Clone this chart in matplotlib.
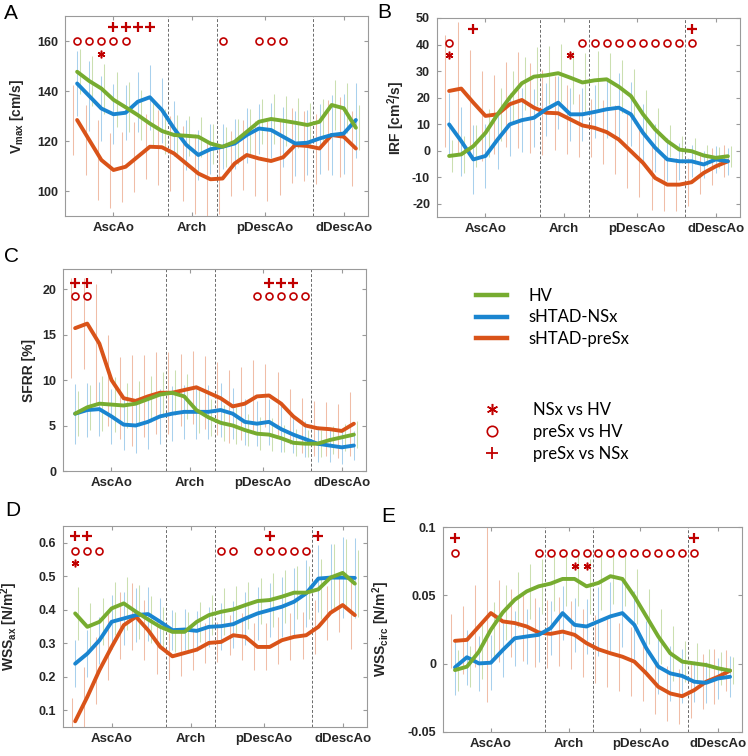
import numpy as np
import matplotlib
matplotlib.use('Agg')
import matplotlib.pyplot as plt
from matplotlib.lines import Line2D

plt.rcParams['font.family'] = ['Liberation Sans', 'DejaVu Sans']
plt.rcParams['axes.unicode_minus'] = False
plt.rcParams['mathtext.fontset'] = 'custom'
plt.rcParams['mathtext.rm'] = 'Liberation Sans:bold'
plt.rcParams['mathtext.it'] = 'Liberation Sans:bold'
plt.rcParams['mathtext.bf'] = 'Liberation Sans:bold'

########
# Data #
########
pos = np.arange(1, 25)
region_ticks = [4, 10.5, 16.5, 23]
region_labels = ['AscAo', 'Arch', 'pDescAo', 'dDescAo']
region_bounds = [8.5, 12.5, 20.5]

groups = ['HV', 'sHTAD-NSx', 'sHTAD-preSx']
tests = ['NSx vs HV', 'preSx vs HV', 'preSx vs NSx']

# A: Vmax [cm/s]
vmax_hv = [147.7, 144, 141, 136.5, 133.5, 130.4, 127, 124, 122.4, 122.1, 121.7, 119,
           117.7, 119.7, 123.7, 127.7, 128.8, 128.1, 127.3, 126.4, 127.7, 134.4, 133.1, 125.3]
vmax_nsx = [143, 138, 133, 130.7, 131.3, 135.7, 137.5, 132.4, 125, 118.5, 114.4, 116.7,
            117.7, 119, 122.4, 125, 124.4, 121.7, 119, 119.3, 121, 122.4, 123, 128.4]
vmax_presx = [128.4, 120.4, 112.4, 108.4, 109.7, 113.7, 117.7, 117.5, 115, 111, 107, 104.7,
              105, 111, 114.4, 113, 112, 113.5, 118.4, 118, 117, 122.4, 121.7, 117]
vmax_hv_sd = [9, 10, 10, 11, 10, 10, 9, 9, 8, 8, 8, 8, 8, 9, 9, 9, 10, 10, 10, 9, 9, 10, 10, 9]
vmax_nsx_sd = [13, 14, 13, 12, 11, 12, 13, 13, 11, 10, 10, 10, 9, 10, 11, 10, 11, 12, 13, 13, 14, 16, 16, 15]
vmax_presx_sd = [14, 14, 16, 15, 14, 14, 13, 15, 15, 15, 16, 15, 14, 13, 14, 15, 16, 15, 15, 14, 14, 14, 16, 15]

# B: IRF [cm2/s]
irf_hv = [-2, -1.4, 1.7, 6.7, 13.7, 20, 25.4, 27.9, 28.4, 29.2, 27.5, 25.7,
          26.5, 26.9, 24.1, 20.6, 13.7, 8, 3.6, 0.4, -0.2, -1.8, -2.7, -2.1]
irf_nsx = [9.9, 3.6, -3.3, -2, 4.2, 9.9, 11.5, 12.4, 15.6, 18.1, 13.7, 13.7,
           14.6, 15.6, 16.2, 13.7, 6.7, 1.1, -3.3, -4, -4, -5.2, -3.3, -4]
irf_presx = [22.5, 23.4, 18.1, 13.1, 13.7, 17.5, 19.1, 16.2, 14.3, 14.1, 11.8, 9.5,
             8.6, 7, 4.2, -0.2, -4.6, -10.3, -12.8, -12.8, -11.9, -8.4, -5.9, -4]
irf_hv_sd = [6, 7, 8, 9, 10, 10, 10, 11, 11, 11, 10, 11, 11, 10, 10, 10, 9, 8, 6, 5, 5, 4, 4, 4]
irf_nsx_sd = [12, 13, 13, 12, 11, 12, 12, 11, 10, 10, 10, 10, 10, 11, 13, 12, 11, 9, 8, 7, 6, 5, 5, 5]
irf_presx_sd = [21, 25, 20, 17, 15, 16, 18, 17, 16, 14, 13, 12, 11, 12, 13, 14, 13, 12, 10, 10, 9, 8, 7, 6]

# C: SFRR [%]
sfrr_hv = [6.3, 7, 7.4, 7.3, 7.2, 7.4, 7.9, 8.4, 8.6, 8.2, 6.7, 5.9,
           5.3, 5, 4.5, 4.1, 4, 3.6, 3.1, 3, 3, 3.4, 3.7, 4]
sfrr_nsx = [6.3, 6.7, 6.8, 6, 5.1, 5, 5.4, 6, 6.3, 6.5, 6.5, 6.5,
            6.7, 6.3, 5.4, 5.2, 5.4, 4.6, 4, 3.5, 3, 2.8, 2.6, 2.8]
sfrr_presx = [15.7, 16.2, 14, 10, 8, 7.7, 8.2, 8.6, 8.6, 8.9, 9.2, 8.6,
              8, 7.1, 7.4, 8.2, 8.3, 7.4, 6, 5, 4.7, 4.6, 4.4, 5.2]
sfrr_hv_sd = [2.5, 2.5, 3, 3, 2.5, 2.5, 2.5, 2.5, 2.5, 2.5, 2.5, 2, 2, 2, 1.8, 1.8, 1.8, 1.5, 1.5, 1.5, 1.5, 1.5, 1.5, 1.5]
sfrr_nsx_sd = [3.3, 3, 3, 3, 2.8, 3, 3, 3, 3, 3, 3, 3, 3, 2.8, 2.5, 2.5, 2.5, 2.5, 2, 2, 2, 1.8, 1.8, 1.6]
sfrr_presx_sd = [5.5, 5, 6.5, 5, 4.5, 5, 4.5, 4.5, 4.5, 4, 4, 4, 4, 4, 4, 4, 3.5, 3.5, 3, 3, 3, 3, 3, 3.5]

# D: WSSax [N/m2]
wssax_hv = [0.389, 0.349, 0.364, 0.404, 0.419, 0.394, 0.371, 0.349, 0.334, 0.334, 0.364, 0.384,
            0.394, 0.401, 0.414, 0.426, 0.429, 0.439, 0.451, 0.451, 0.461, 0.496, 0.510, 0.478]
wssax_nsx = [0.239, 0.269, 0.309, 0.364, 0.374, 0.384, 0.387, 0.364, 0.339, 0.341, 0.337, 0.349,
             0.351, 0.357, 0.374, 0.389, 0.399, 0.409, 0.424, 0.449, 0.493, 0.496, 0.496, 0.495]
wssax_presx = [0.067, 0.140, 0.220, 0.289, 0.354, 0.379, 0.339, 0.289, 0.261, 0.271, 0.281, 0.301,
               0.304, 0.324, 0.319, 0.289, 0.289, 0.309, 0.319, 0.324, 0.349, 0.391, 0.414, 0.384]
wssax_hv_sd = [0.08, 0.07, 0.07, 0.08, 0.08, 0.08, 0.07, 0.06, 0.06, 0.06, 0.06, 0.06,
               0.07, 0.07, 0.07, 0.07, 0.08, 0.08, 0.08, 0.08, 0.09, 0.1, 0.1, 0.1]
wssax_nsx_sd = [0.07, 0.07, 0.07, 0.08, 0.08, 0.08, 0.08, 0.07, 0.06, 0.06, 0.06, 0.06,
                0.07, 0.07, 0.08, 0.08, 0.08, 0.09, 0.1, 0.1, 0.1, 0.1, 0.12, 0.12]
wssax_presx_sd = [0.07, 0.09, 0.1, 0.1, 0.1, 0.1, 0.09, 0.08, 0.07, 0.07, 0.06, 0.06,
                  0.06, 0.06, 0.07, 0.07, 0.07, 0.07, 0.07, 0.07, 0.08, 0.08, 0.08, 0.1]

# E: WSScirc [N/m2]
wsscirc_hv = [-0.0047, -0.0022, 0.0088, 0.0248, 0.0375, 0.0468, 0.0529, 0.0566, 0.0586, 0.0620, 0.0620, 0.0566,
              0.0591, 0.0640, 0.0620, 0.0493, 0.0346, 0.0199, 0.0076, 0.0015, 0.0002, -0.0010, -0.0034, -0.0051]
wsscirc_nsx = [-0.0027, 0.0047, 0.0002, 0.0007, 0.0100, 0.0186, 0.0199, 0.0211, 0.0260, 0.0370, 0.0284, 0.0272,
               0.0309, 0.0346, 0.0370, 0.0284, 0.0113, -0.0022, -0.0071, -0.0090, -0.0132, -0.0140, -0.0108, -0.0096]
wsscirc_presx = [0.0167, 0.0174, 0.0272, 0.0370, 0.0309, 0.0297, 0.0272, 0.0228, 0.0218, 0.0235, 0.0211, 0.0150,
                 0.0105, 0.0076, 0.0051, 0.0015, -0.0071, -0.0169, -0.0218, -0.0238, -0.0194, -0.0132, -0.0096, -0.0051]
wsscirc_hv_sd = [0.015, 0.015, 0.02, 0.02, 0.02, 0.02, 0.02, 0.02, 0.02, 0.02, 0.02, 0.02,
                 0.02, 0.02, 0.02, 0.02, 0.02, 0.02, 0.02, 0.015, 0.015, 0.012, 0.012, 0.01]
wsscirc_nsx_sd = [0.02, 0.02, 0.02, 0.02, 0.02, 0.02, 0.02, 0.02, 0.02, 0.02, 0.02, 0.02,
                  0.025, 0.025, 0.025, 0.025, 0.02, 0.02, 0.02, 0.02, 0.015, 0.015, 0.015, 0.015]
wsscirc_presx_sd = [0.02, 0.025, 0.03, 0.065, 0.03, 0.025, 0.025, 0.025, 0.025, 0.025, 0.025, 0.025,
                    0.025, 0.025, 0.025, 0.025, 0.02, 0.02, 0.02, 0.02, 0.02, 0.02, 0.02, 0.015]

# significant positions per test (NSx vs HV, preSx vs HV, preSx vs NSx)
vmax_sig = [[3], [1, 2, 3, 4, 5, 13, 16, 17, 18], [4, 5, 6, 7]]
irf_sig = [[1, 11], [1, 12, 13, 14, 15, 16, 17, 18, 19, 20, 21], [3, 21]]
sfrr_sig = [[], [1, 2, 16, 17, 18, 19, 20], [1, 2, 17, 18, 19]]
wssax_sig = [[1], [1, 2, 3, 13, 14, 16, 17, 18, 19, 20], [1, 2, 17, 21]]
wsscirc_sig = [[11, 12], [1] + list(range(8, 22)), [1, 21]]

##########
# Styles #
##########
colors = ['#77AC30', '#1a85d0', '#D95319']
bar_offsets = [0.25, 0.0, -0.3]
sig_color = '#c00000'
sig_markers = [dict(marker=(6, 2, 0), ms=5.5, mew=1.1),
               dict(marker='o', ms=5, mew=1.2, mfc='none'),
               dict(marker='+', ms=6.5, mew=1.6)]
tick_col = '#262626'
spine_col = '#9a9a9a'


def DrawPanel(ax, means, sds, sig, sig_levels, ylim, yticks, yticklabels, ylabel, label_x):
    for k in [2, 1, 0]:
        m = np.array(means[k])
        s = np.array(sds[k])
        ax.vlines(pos + bar_offsets[k], m - s, m + s, color=colors[k], alpha=0.38, lw=0.75, zorder=1)
    for b in region_bounds:
        ax.axvline(b, color='#6a6a6a', ls=(0, (3, 2)), lw=0.7, zorder=2)
    for k in [2, 1, 0]:
        ax.plot(pos, means[k], color=colors[k], lw=2.8, zorder=3, solid_capstyle='round',
                solid_joinstyle='round')
    for t in range(3):
        if sig[t]:
            ax.plot(sig[t], [sig_levels[t]] * len(sig[t]), ls='none', color=sig_color,
                    mec=sig_color, zorder=4, clip_on=False, **sig_markers[t])
    ax.set_xlim(0, 25)
    ax.set_ylim(*ylim)
    ax.set_yticks(yticks)
    ax.set_yticklabels(yticklabels)
    ax.set_xticks(region_ticks)
    ax.set_xticklabels(region_labels)
    ax.tick_params(axis='both', direction='in', length=3, color=spine_col, colors=tick_col,
                   top=True, right=True)
    ax.tick_params(axis='x', labelsize=9.5, pad=4)
    ax.tick_params(axis='y', labelsize=9, pad=5)
    for lab in ax.get_xticklabels() + ax.get_yticklabels():
        lab.set_fontweight('bold')
    for sp in ax.spines.values():
        sp.set_color(spine_col)
        sp.set_linewidth(0.8)
    ax.set_ylabel(ylabel, fontsize=10, fontweight='bold', color=tick_col)
    ax.yaxis.set_label_coords(label_x, 0.5)


W, H = 748, 756
fig = plt.figure(figsize=(W / 100, H / 100), dpi=100)


def AxesPx(left, top, right, bottom):
    return fig.add_axes([left / W, 1 - bottom / H, (right - left) / W, (bottom - top) / H])


axA = AxesPx(65, 16, 368, 216)
axB = AxesPx(437, 18, 740, 217)
axC = AxesPx(63, 269, 366, 471)
axD = AxesPx(63, 526, 367, 727)
axE = AxesPx(443, 527, 742, 732)

DrawPanel(axA, [vmax_hv, vmax_nsx, vmax_presx], [vmax_hv_sd, vmax_nsx_sd, vmax_presx_sd],
          vmax_sig, [155, 160, 165.7], (90, 170), [100, 120, 140, 160],
          ['100', '120', '140', '160'], 'V$_{max}$ [cm/s]', -0.13)
DrawPanel(axB, [irf_hv, irf_nsx, irf_presx], [irf_hv_sd, irf_nsx_sd, irf_presx_sd],
          irf_sig, [36, 40.5, 46], (-25, 50), list(range(-20, 51, 10)),
          [str(v) for v in range(-20, 51, 10)], 'IRF [cm$^2$/s]', -0.10)
DrawPanel(axC, [sfrr_hv, sfrr_nsx, sfrr_presx], [sfrr_hv_sd, sfrr_nsx_sd, sfrr_presx_sd],
          sfrr_sig, [17.5, 19.2, 20.7], (0, 22.2), [0, 5, 10, 15, 20],
          ['0', '5', '10', '15', '20'], 'SFRR [%]', -0.09)
DrawPanel(axD, [wssax_hv, wssax_nsx, wssax_presx], [wssax_hv_sd, wssax_nsx_sd, wssax_presx_sd],
          wssax_sig, [0.54, 0.575, 0.62], (0.05, 0.65), [0.1, 0.2, 0.3, 0.4, 0.5, 0.6],
          ['0.1', '0.2', '0.3', '0.4', '0.5', '0.6'], 'WSS$_{ax}$ [N/m$^2$]', -0.14)
DrawPanel(axE, [wsscirc_hv, wsscirc_nsx, wsscirc_presx], [wsscirc_hv_sd, wsscirc_nsx_sd, wsscirc_presx_sd],
          wsscirc_sig, [0.0718, 0.081, 0.0917], (-0.05, 0.1), [-0.05, 0, 0.05, 0.1],
          ['-0.05', '0', '0.05', '0.1'], 'WSS$_{circ}$ [N/m$^2$]', -0.17)

# panel letters
for letter, (x, y) in zip('ABCDE', [(4, 4), (377, 3), (4, 247), (5, 501), (381, 507)]):
    fig.text(x / W, 1 - y / H, letter, fontsize=15, ha='left', va='top')

##########
# Legend #
##########
line_handles = [Line2D([], [], color=c, lw=3.2) for c in colors]
fig.legend(line_handles, groups, loc='upper left', bbox_to_anchor=(476 / W, 1 - 288 / H),
           frameon=False, prop={'family': ['Lato', 'DejaVu Sans'], 'size': 12},
           handlelength=1.86, handletextpad=1.3, labelspacing=0.32, borderpad=0, borderaxespad=0)

mark_handles = [Line2D([], [], ls='none', color=sig_color, mec=sig_color,
                       **dict(sig_markers[0], ms=8)),
                Line2D([], [], ls='none', color=sig_color, mec=sig_color,
                       **dict(sig_markers[1], ms=7.5)),
                Line2D([], [], ls='none', color=sig_color, mec=sig_color,
                       **dict(sig_markers[2], ms=9, mew=1.3))]
fig.legend(mark_handles, tests, loc='upper left', bbox_to_anchor=(476 / W, 1 - 402 / H),
           frameon=False, prop={'family': ['Lato', 'DejaVu Sans'], 'size': 12},
           handlelength=1.86, handletextpad=1.56, labelspacing=0.35, borderpad=0, borderaxespad=0)

fig.savefig('out.png', dpi=100)
